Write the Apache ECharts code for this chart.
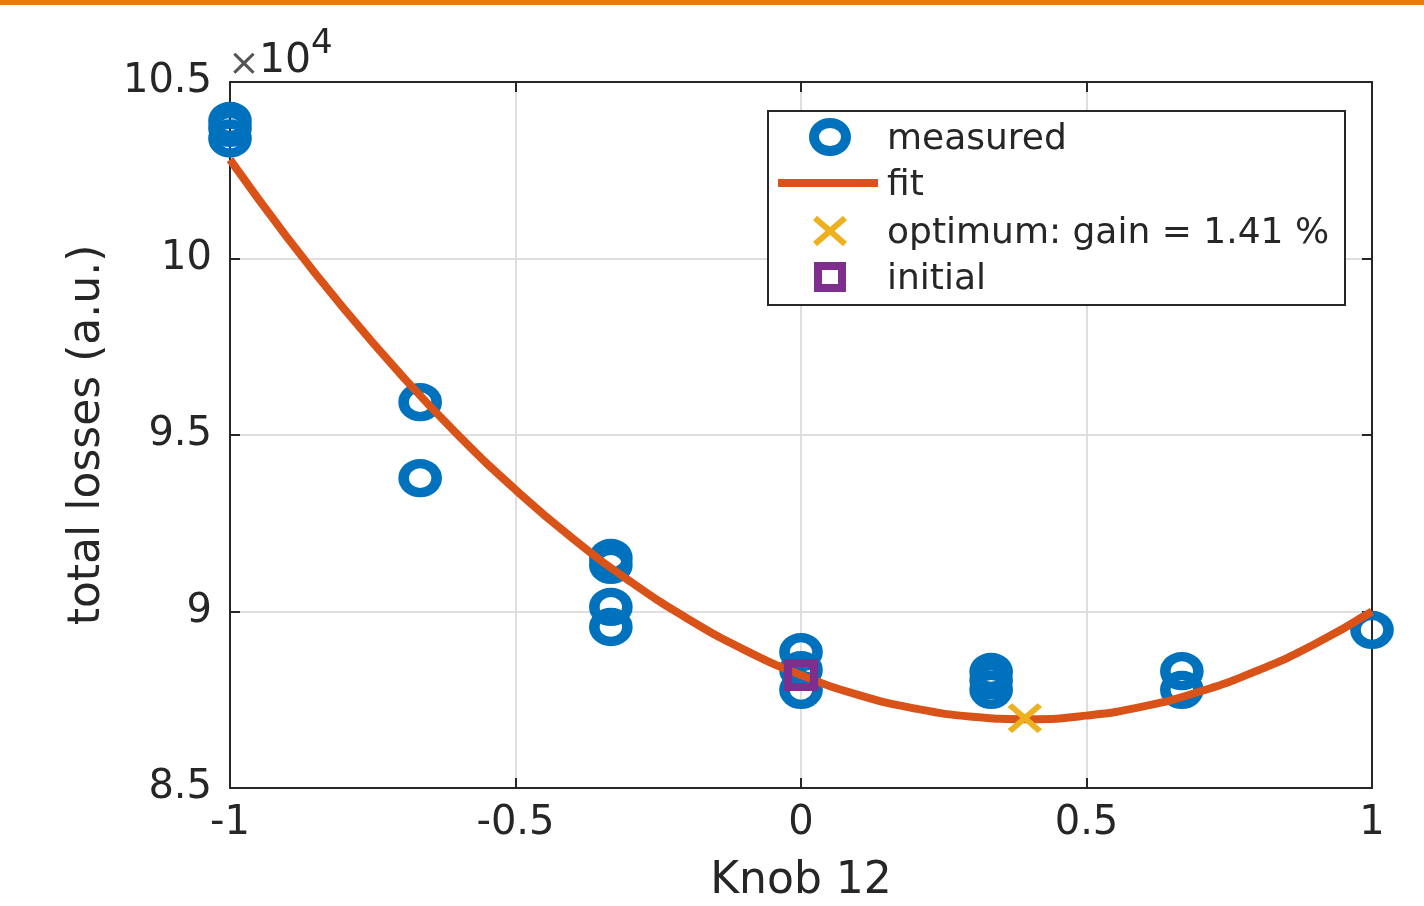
<!DOCTYPE html>
<html>
<head>
<meta charset="utf-8">
<script src="https://cdn.jsdelivr.net/npm/echarts@6/dist/echarts.min.js"></script>
<style>
html,body{margin:0;padding:0;background:#fff;}
#chart{width:1424px;height:906px;}
</style>
</head>
<body>
<div id="chart"></div>
<script>
// ---- data (total losses in raw units; axis shows ×10^4) ----
const measuredX = [-1, -1, -1, -0.667, -0.667, -0.333, -0.333, -0.333, -0.333, 0, 0, 0, 0.333, 0.333, 0.333, 0.667, 0.667, 1];
const measuredY = [103900, 103700, 103400, 95930, 93780, 91520, 91320, 90130, 89560, 88850, 88340, 87780, 88290, 88050, 87780, 88310, 87780, 89480];
const fitX = [-1, -0.9, -0.8, -0.7, -0.6, -0.5, -0.4, -0.3, -0.2, -0.1, 0, 0.1, 0.2, 0.3, 0.4, 0.5, 0.6, 0.7, 0.8, 0.9, 1];
const fitY = [102800, 100600, 98570, 96700, 94990, 93450, 92070, 90860, 89810, 88920, 88200, 87640, 87250, 87020, 86950, 87050, 87310, 87740, 88330, 89080, 90000];
const optimumPoint = [0.392, 86980];
const initialPoint = [0, 88200];
const xTicks = { min: -1, max: 1, interval: 0.5 };
const yTicks = { min: 85000, max: 105000, interval: 5000 };
const legendLabels = ['measured', 'fit', 'optimum: gain = 1.41 %', 'initial'];
const xName = 'Knob 12';
const yName = 'total losses (a.u.)';

const FONT = 'DejaVu Sans';
const TXT = '#262626';
const AX = '#262626';
const GRIDC = '#dedede';
const BLUE = '#0072BD', ORANGE = '#D95319', YELLOW = '#EDB120', PURPLE = '#7E2F8E';

const chart = echarts.init(document.getElementById('chart'), null, { renderer: 'canvas' });

const commonX = {
  type: 'value', min: xTicks.min, max: xTicks.max, interval: xTicks.interval,
  axisLine: { show: true, onZero: false, lineStyle: { color: AX, width: 2 } },
  axisTick: { show: true, inside: true, length: 10, lineStyle: { color: AX, width: 2 } }
};
const commonY = {
  type: 'value', min: yTicks.min, max: yTicks.max, interval: yTicks.interval,
  axisLine: { show: true, onZero: false, lineStyle: { color: AX, width: 2 } },
  axisTick: { show: true, inside: true, length: 10, lineStyle: { color: AX, width: 2 } }
};

const legendX = 768, legendY = 111, legendW = 577, legendH = 194;
const rowY = [137, 183, 231, 277];
const iconX = 830, textX = 887;

const option = {
  backgroundColor: '#fff',
  animation: false,
  grid: { left: 230, right: 52, top: 82, bottom: 118, containLabel: false, outerBoundsMode: 'none' },
  xAxis: [
    Object.assign({}, commonX, {
      position: 'bottom',
      name: xName, nameLocation: 'middle', nameGap: 72,
      nameTextStyle: { fontFamily: FONT, fontSize: 44, color: TXT },
      axisLabel: { show: true, margin: 16, fontFamily: FONT, fontSize: 40, color: TXT },
      splitLine: { show: true, lineStyle: { color: GRIDC, width: 2 } }
    }),
    Object.assign({}, commonX, {
      position: 'top', axisLabel: { show: false }, splitLine: { show: false }
    })
  ],
  yAxis: [
    Object.assign({}, commonY, {
      position: 'left',
      name: yName, nameLocation: 'middle', nameGap: 120, nameRotate: 90,
      nameTextStyle: { fontFamily: FONT, fontSize: 44, color: TXT },
      axisLabel: {
        show: true, margin: 18, fontFamily: FONT, fontSize: 40, color: TXT,
        formatter: v => String(Math.round(v / 1000) / 10)
      },
      splitLine: { show: true, lineStyle: { color: GRIDC, width: 2 } }
    }),
    Object.assign({}, commonY, {
      position: 'right', axisLabel: { show: false }, splitLine: { show: false }
    })
  ],
  series: [
    {
      name: legendLabels[0], type: 'scatter', xAxisIndex: 0, yAxisIndex: 0,
      data: measuredX.map((x, i) => [x, measuredY[i]]),
      symbol: 'circle', symbolSize: [33, 29],
      itemStyle: { color: 'rgba(0,0,0,0)', borderColor: BLUE, borderWidth: 10, opacity: 1 },
      z: 2
    },
    {
      name: legendLabels[1], type: 'line', xAxisIndex: 0, yAxisIndex: 0,
      data: fitX.map((x, i) => [x, fitY[i]]),
      smooth: true, symbol: 'none',
      lineStyle: { color: ORANGE, width: 8 },
      z: 3
    },
    {
      name: legendLabels[2], type: 'scatter', xAxisIndex: 0, yAxisIndex: 0,
      data: [optimumPoint],
      symbol: 'path://M0,0L10,10M10,0L0,10', symbolSize: [30, 26], symbolKeepAspect: false,
      itemStyle: { color: 'rgba(0,0,0,0)', borderColor: YELLOW, borderWidth: 6, opacity: 1 },
      z: 4
    },
    {
      name: legendLabels[3], type: 'scatter', xAxisIndex: 0, yAxisIndex: 0,
      data: [initialPoint],
      symbol: 'rect', symbolSize: [26, 24],
      itemStyle: { color: 'rgba(0,0,0,0)', borderColor: PURPLE, borderWidth: 8, opacity: 1 },
      z: 5
    }
  ],
  graphic: [
    { type: 'rect', shape: { x: 0, y: 0, width: 1424, height: 5 }, style: { fill: '#E97A0C' }, z: 100 },
    // ×10^4 exponent label
    { type: 'text', x: 244, y: 65, style: { text: '×', fontFamily: FONT, fontSize: 38, fill: '#555', align: 'center', verticalAlign: 'middle' }, z: 100 },
    { type: 'text', x: 259, y: 61, style: { text: '10', fontFamily: FONT, fontSize: 41, fill: TXT, align: 'left', verticalAlign: 'middle' }, z: 100 },
    { type: 'text', x: 311, y: 44, style: { text: '4', fontFamily: FONT, fontSize: 34, fill: TXT, align: 'left', verticalAlign: 'middle' }, z: 100 },
    // legend
    { type: 'rect', shape: { x: legendX, y: legendY, width: legendW, height: legendH }, style: { fill: '#fff', stroke: AX, lineWidth: 2 }, z: 100 },
    { type: 'ellipse', shape: { cx: iconX, cy: rowY[0], rx: 16, ry: 14 }, style: { fill: 'none', stroke: BLUE, lineWidth: 10 }, z: 101 },
    { type: 'line', shape: { x1: 778, y1: rowY[1], x2: 878, y2: rowY[1] }, style: { stroke: ORANGE, lineWidth: 8 }, z: 101 },
    { type: 'polyline', shape: { points: [[iconX - 15, rowY[2] - 13], [iconX + 15, rowY[2] + 13]] }, style: { stroke: YELLOW, lineWidth: 6 }, z: 101 },
    { type: 'polyline', shape: { points: [[iconX + 15, rowY[2] - 13], [iconX - 15, rowY[2] + 13]] }, style: { stroke: YELLOW, lineWidth: 6 }, z: 101 },
    { type: 'rect', shape: { x: iconX - 12, y: rowY[3] - 11, width: 24, height: 22 }, style: { fill: 'none', stroke: PURPLE, lineWidth: 8 }, z: 101 }
  ].concat(legendLabels.map((t, i) => ({
    type: 'text', x: textX, y: rowY[i] + 3,
    style: { text: t, fontFamily: FONT, fontSize: 36, fill: TXT, align: 'left', verticalAlign: 'middle' }, z: 101
  })))
};
chart.setOption(option);
</script>
</body>
</html>
